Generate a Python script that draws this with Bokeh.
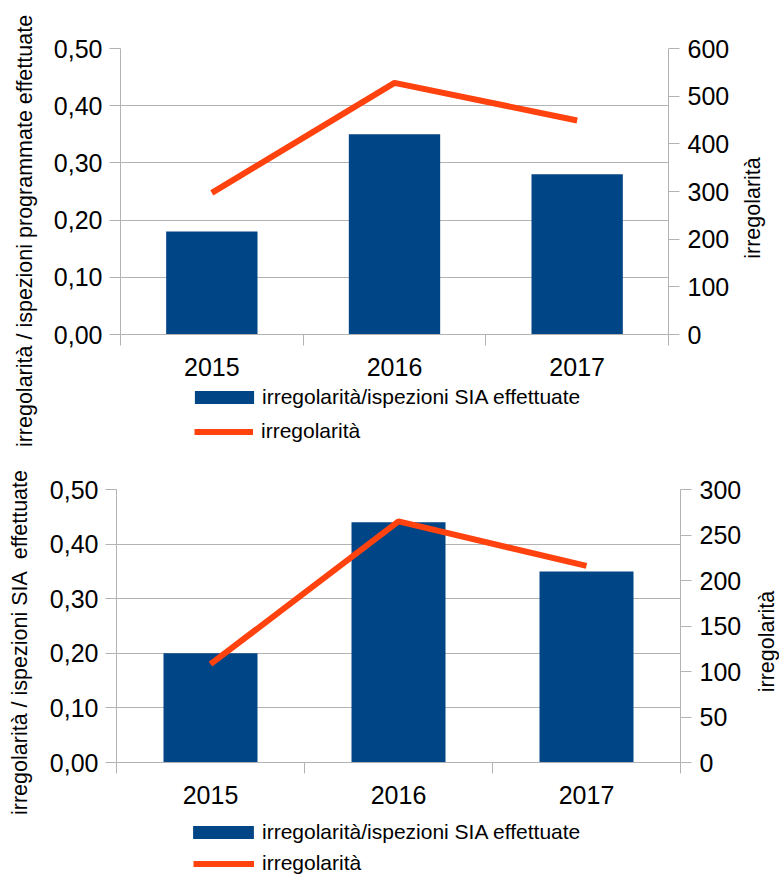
import math
from bokeh.plotting import figure
from bokeh.models import (Range1d, LinearAxis, FixedTicker, CustomJSTickFormatter,
                          Legend, LegendItem, ColumnDataSource)
from bokeh.layouts import column, row
from bokeh.embed import file_html
from bokeh.resources import INLINE

# ---------------- data ----------------
years = ["2015", "2016", "2017"]

ratio_top = [0.18, 0.35, 0.28]
irregolarita_top = [297, 528, 449]

ratio_bottom = [0.20, 0.44, 0.35]
irregolarita_bottom = [108, 265, 216]

left_ticks = [0.0, 0.1, 0.2, 0.3, 0.4, 0.5]
right_ticks_top = [0, 100, 200, 300, 400, 500, 600]
right_ticks_bottom = [0, 50, 100, 150, 200, 250, 300]

left_title_top = "irregolarità / ispezioni programmate effettuate"
left_title_bottom = "irregolarità / ispezioni SIA\u00a0 effettuate"
right_title = "irregolarità"
bar_label = "irregolarità/ispezioni SIA effettuate"
line_label = "irregolarità"

BLUE = "#004586"
ORANGE = "#ff420e"
GRAY = "#b3b3b3"
FONT = "Liberation Sans"


def make_source(ratios, irr):
    n = len(years)
    centers = [i + 0.5 for i in range(n)]
    return centers, ColumnDataSource(dict(x=centers, ratio=ratios, irr=irr, year=years))


def make_chart(src, centers, right_ticks, width, height, mb_left, mb_right,
               mb_top, mb_bottom):
    n = len(years)
    p = figure(width=width, height=height, output_backend="svg", toolbar_location=None,
               x_range=Range1d(0, n), y_range=Range1d(left_ticks[0], left_ticks[-1]),
               min_border_left=mb_left, min_border_right=mb_right,
               min_border_top=mb_top, min_border_bottom=mb_bottom)
    p.outline_line_color = None
    p.background_fill_color = "white"
    p.border_fill_color = "white"

    p.extra_y_ranges = {"r": Range1d(right_ticks[0], right_ticks[-1])}

    p.vbar(x="x", top="ratio", width=0.5, source=src, fill_color=BLUE, line_color=None)
    p.line(x="x", y="irr", source=src, y_range_name="r", line_width=6,
           line_color=ORANGE)

    # x axis: labels at centres, tick marks at category boundaries
    xa = p.xaxis[0]
    xa.ticker = FixedTicker(ticks=centers, minor_ticks=list(range(n + 1)))
    xa.formatter = CustomJSTickFormatter(args=dict(labels=years),
                                         code="return labels[Math.floor(tick)];")
    xa.major_tick_line_color = None
    xa.minor_tick_line_color = GRAY
    xa.minor_tick_out = 11
    xa.minor_tick_in = 0
    xa.axis_line_color = GRAY
    xa.major_label_standoff = 12
    xa.major_label_text_font = FONT
    xa.major_label_text_font_size = "25px"
    xa.major_label_text_color = "black"
    p.xgrid.visible = False

    ya = p.yaxis[0]
    ya.ticker = FixedTicker(ticks=left_ticks)
    ya.formatter = CustomJSTickFormatter(code="return tick.toFixed(2).replace('.', ',');")
    ya.axis_line_color = GRAY
    ya.major_tick_line_color = GRAY
    ya.major_tick_out = 11
    ya.major_tick_in = 0
    ya.minor_tick_line_color = None
    ya.major_label_standoff = 7
    ya.major_label_text_font = FONT
    ya.major_label_text_font_size = "25px"
    ya.major_label_text_color = "black"
    p.ygrid.ticker = FixedTicker(ticks=left_ticks)
    p.ygrid.grid_line_color = GRAY

    ra = LinearAxis(y_range_name="r", ticker=FixedTicker(ticks=right_ticks))
    ra.axis_line_color = GRAY
    ra.major_tick_line_color = GRAY
    ra.major_tick_out = 11
    ra.major_tick_in = 0
    ra.minor_tick_line_color = None
    ra.major_label_standoff = 8
    ra.major_label_text_font = FONT
    ra.major_label_text_font_size = "25px"
    ra.major_label_text_color = "black"
    p.add_layout(ra, "right")
    return p


def make_legend_fig(src, width, height, bar_loc, line_loc, swatch_w):
    """Figure holding only the legend; its renderers share the chart data but the
    view ranges lie beyond the data, so only the legend swatches are visible."""
    n = len(years)
    f = figure(width=width, height=height, output_backend="svg", toolbar_location=None,
               x_range=Range1d(n + 50, n + 51), y_range=Range1d(50, 51),
               x_axis_location=None, y_axis_location=None,
               min_border_left=0, min_border_right=0, min_border_top=0,
               min_border_bottom=0)
    f.outline_line_color = None
    f.grid.visible = False
    f.border_fill_color = "white"
    f.background_fill_color = "white"
    b = f.vbar(x="x", top="ratio", width=0.5, source=src, fill_color=BLUE,
               line_color=None)
    l = f.line(x="x", y="ratio", source=src, line_width=6, line_color=ORANGE)
    common = dict(spacing=0, padding=0, margin=0, border_line_color=None,
                  background_fill_alpha=0, label_text_font=FONT,
                  label_text_font_size="21px", label_text_color="black")
    # area swatches are inset by 10% on each side, so widen the box for the bar
    bar_w = round(swatch_w / 0.8)
    f.add_layout(Legend(items=[LegendItem(label=bar_label, renderers=[b])],
                        location=bar_loc, glyph_width=bar_w, glyph_height=16,
                        label_standoff=1, **common))
    f.add_layout(Legend(items=[LegendItem(label=line_label, renderers=[l])],
                        location=line_loc, glyph_width=swatch_w, glyph_height=13,
                        label_standoff=8, **common))
    return f


def make_side_title(text, width, height, mb_left, mb_top, mb_bottom, standoff):
    """Narrow companion figure whose only content is a vertical axis title."""
    t = figure(width=width, height=height, output_backend="svg", toolbar_location=None,
               x_range=Range1d(0, 1), y_range=Range1d(0, 1), x_axis_location=None,
               min_border_left=mb_left, min_border_right=0, min_border_top=mb_top,
               min_border_bottom=mb_bottom)
    t.outline_line_color = None
    t.grid.visible = False
    t.border_fill_color = "white"
    t.background_fill_color = "white"
    ax = t.yaxis[0]
    ax.ticker = FixedTicker(ticks=[])
    ax.axis_line_color = None
    ax.major_tick_out = 0
    ax.major_tick_in = 0
    ax.minor_tick_line_color = None
    ax.major_label_standoff = 0
    ax.axis_label = text
    ax.axis_label_text_font = FONT
    ax.axis_label_text_font_size = "21.5px"
    ax.axis_label_text_font_style = "normal"
    ax.axis_label_text_color = "black"
    ax.axis_label_standoff = standoff
    return t


c1, s1 = make_source(ratio_top, irregolarita_top)
c2, s2 = make_source(ratio_bottom, irregolarita_bottom)

# top block: x 0-45 left title | 45-735 chart + legend | 735-779 right title
l1 = make_side_title(left_title_top, width=45, height=450, mb_left=36, mb_top=11,
                     mb_bottom=0, standoff=0)
p1 = make_chart(s1, c1, right_ticks_top,
                width=690, height=382, mb_left=75, mb_right=67, mb_top=48, mb_bottom=48)
g1 = make_legend_fig(s1, width=690, height=68, bar_loc=(67, 41), line_loc=(74, 7),
                     swatch_w=59)
r1 = make_side_title(right_title, width=44, height=450, mb_left=29, mb_top=0,
                     mb_bottom=35, standoff=0)

# bottom block: x 0-45 left title | 45-745 chart + legend | 745-779 right title
l2 = make_side_title(left_title_bottom, width=45, height=424, mb_left=31, mb_top=0,
                     mb_bottom=40, standoff=0)
p2 = make_chart(s2, c2, right_ticks_bottom,
                width=700, height=358, mb_left=71, mb_right=65, mb_top=39, mb_bottom=46)
g2 = make_legend_fig(s2, width=700, height=66, bar_loc=(69, 30), line_loc=(77, -1),
                     swatch_w=61)
r2 = make_side_title(right_title, width=34, height=424, mb_left=33, mb_top=0,
                     mb_bottom=42, standoff=0)

top = row(column(l1), column(p1, g1, spacing=0), column(r1), spacing=0)
bottom = row(column(l2), column(p2, g2, spacing=0), column(r2), spacing=0)
layout = column(top, bottom, spacing=0)
open("out.html", "w").write(file_html(layout, INLINE))
